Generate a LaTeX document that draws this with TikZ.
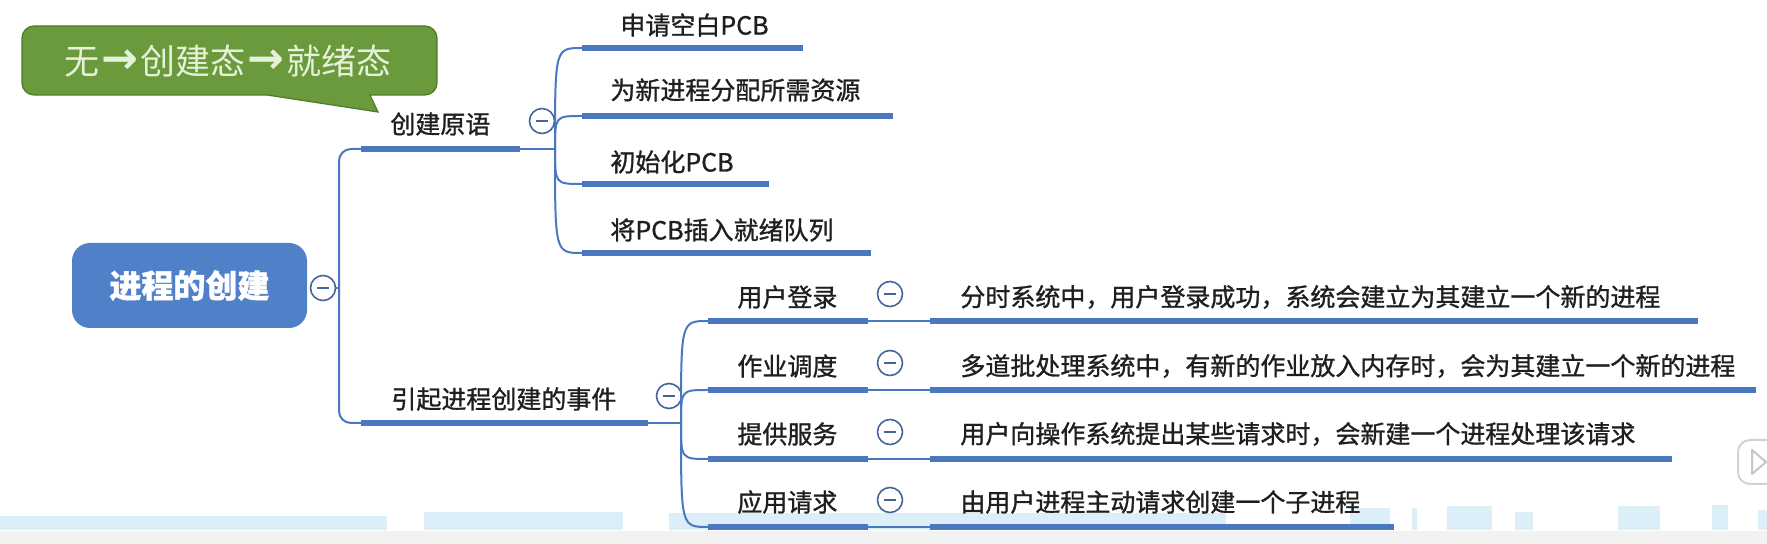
\documentclass[tikz,border=0pt]{standalone}
\usepackage{fontspec}
\setmainfont{Noto Sans CJK SC}
\newfontfamily\lblfont[FakeBold=1.1]{Noto Sans CJK SC}
\newfontfamily\notefont{Noto Sans CJK SC}
\newfontfamily\arrowfont{DejaVu Sans}
\usetikzlibrary{calc}
\definecolor{lineblue}{HTML}{4A78C0}
\definecolor{foldcol}{HTML}{44649A}
\definecolor{rootfill}{HTML}{5080C8}
\definecolor{notefill}{HTML}{6A9A3C}
\definecolor{noteedge}{HTML}{4E7A2A}
\definecolor{notetext}{HTML}{E6F1DA}
\definecolor{wave}{HTML}{DCEEF7}
\newcommand{\notearrow}{\hspace{1pt}\raisebox{0.5pt}{\arrowfont\bfseries\fontsize{22}{22}\selectfont →}\hspace{1pt}}
\begin{document}
\begin{tikzpicture}[x=0.5pt,y=-0.5pt,
  thinline/.style={draw=lineblue,line width=1pt},
  thickline/.style={draw=lineblue,line width=3pt},
  lbl/.style={anchor=west,inner sep=0pt,text=black!88,font=\lblfont\fontsize{12.5}{15}\selectfont},
  fold/.style={circle,draw=foldcol,line width=0.8pt,fill=white,minimum size=12.5pt,inner sep=0pt,
    path picture={\draw[foldcol,line width=0.8pt] ([xshift=-2.8pt]path picture bounding box.center) -- ([xshift=2.8pt]path picture bounding box.center);}},
  rootbox/.style={rounded corners=9pt,fill=rootfill,text=white,minimum width=117.5pt,minimum height=42.5pt,inner sep=0pt,font=\lblfont\fontsize{16}{18}\selectfont\bfseries},
  notebox/.style={fill=notefill,draw=noteedge,line width=0.6pt},
  notelbl/.style={inner sep=0pt,text=notetext,font=\notefont\fontsize{17.5}{20}\selectfont}
]
\useasboundingbox (0,0) rectangle (1767,544);

% screen-capture artefacts at the bottom
\fill[gray!10] (0,531) rectangle (1767,544);
\fill[wave] (0,516) rectangle (387,530);
\fill[wave] (424,512) rectangle (623,530);
\fill[wave] (669,513) rectangle (1226,530);
\fill[wave] (1350,508) rectangle (1390,530);
\fill[wave] (1412,508) rectangle (1417,530);
\fill[wave] (1447,506) rectangle (1492,530);
\fill[wave] (1515,512) rectangle (1533,530);
\fill[wave] (1618,506) rectangle (1660,530);
\fill[wave] (1712,505) rectangle (1728,530);
\fill[wave] (1758,510) rectangle (1767,530);
\draw[gray!35,fill=white,line width=1pt,rounded corners=6pt] (1738,440) rectangle (1790,484);
\draw[gray!45,line width=1pt,line join=round] (1752,450) -- (1766,462) -- (1752,474) -- cycle;

% callout
\draw[notebox] (22,60) [rounded corners=6pt] -- (22,26) -- (437,26) -- (437,95) [sharp corners] -- (370,95) -- (378,112) -- (267,95) [rounded corners=6pt] -- (22,95) -- (22,60) -- cycle;
\node[notelbl] (note) at (228,61) {无\notearrow 创建态\notearrow 就绪态};

% root
\node[rootbox] (root) at (189.5,285.5) {进程的创建};
\node[fold] (f0) at (323,288) {};
\coordinate (v) at (339,288);
\draw[thinline] (f0.east) -- (v);

% main branches
\coordinate (b1s) at (361,149);
\coordinate (b1e) at (520,149);
\coordinate (j1) at (555,149);
\coordinate (b2s) at (361,423);
\coordinate (b2e) at (648,423);
\coordinate (j2) at (681,423);
\draw[thinline,rounded corners=6pt] (b1s) -- (b1s -| v) -- (b2s -| v) -- (b2s);

\node[lbl] (b1) at (390,124) {创建原语};
\draw[thickline] (b1s) -- (b1e);
\draw[thinline] (b1e) -- (j1);
\node[fold] (f1) at (542,121) {};

\node[lbl] (b2) at (391,399) {引起进程创建的事件};
\draw[thickline] (b2s) -- (b2e);
\draw[thinline] (b2e) -- (j2);
\node[fold] (f2) at (669,396) {};

% children of 创建原语
\coordinate (c1s) at (582,48);  \coordinate (c1e) at (803,48);
\coordinate (c2s) at (582,116); \coordinate (c2e) at (893,116);
\coordinate (c3s) at (582,184); \coordinate (c3e) at (769,184);
\coordinate (c4s) at (582,253); \coordinate (c4e) at (871,253);
\foreach \i in {1,2,3,4}{
  \draw[thinline] (j1) .. controls (j1 |- c\i s) .. (c\i s);
  \draw[thickline] (c\i s) -- (c\i e);
}
\node[lbl] (c1) at (620,25) {申请空白PCB};
\node[lbl] (c2) at (610,90) {为新进程分配所需资源};
\node[lbl] (c3) at (610,162) {初始化PCB};
\node[lbl] (c4) at (610,230) {将PCB插入就绪队列};

% events
\coordinate (e1s) at (708,321); \coordinate (e1m) at (868,321); \coordinate (e1n) at (930,321); \coordinate (e1e) at (1698,321);
\coordinate (e2s) at (708,390); \coordinate (e2m) at (868,390); \coordinate (e2n) at (930,390); \coordinate (e2e) at (1756,390);
\coordinate (e3s) at (708,459); \coordinate (e3m) at (868,459); \coordinate (e3n) at (930,459); \coordinate (e3e) at (1672,459);
\coordinate (e4s) at (708,527); \coordinate (e4m) at (868,527); \coordinate (e4n) at (930,527); \coordinate (e4e) at (1394,527);
\foreach \i in {1,2,3,4}{
  \draw[thinline] (j2) .. controls (j2 |- e\i s) .. (e\i s);
  \draw[thickline] (e\i s) -- (e\i m);
  \draw[thinline] (e\i m) -- (e\i n);
  \draw[thickline] (e\i n) -- (e\i e);
}
\node[lbl] (e1) at (737,297) {用户登录};
\node[lbl] (e2) at (737,366) {作业调度};
\node[lbl] (e3) at (737,434) {提供服务};
\node[lbl] (e4) at (737,502) {应用请求};
\node[fold] (g1) at (890,294) {};
\node[fold] (g2) at (890,363) {};
\node[fold] (g3) at (890,432) {};
\node[fold] (g4) at (890,500) {};
\node[lbl] (d1) at (960,297) {分时系统中，用户登录成功，系统会建立为其建立一个新的进程};
\node[lbl] (d2) at (960,366) {多道批处理系统中，有新的作业放入内存时，会为其建立一个新的进程};
\node[lbl] (d3) at (960,434) {用户向操作系统提出某些请求时，会新建一个进程处理该请求};
\node[lbl] (d4) at (960,502) {由用户进程主动请求创建一个子进程};
\end{tikzpicture}
\end{document}
